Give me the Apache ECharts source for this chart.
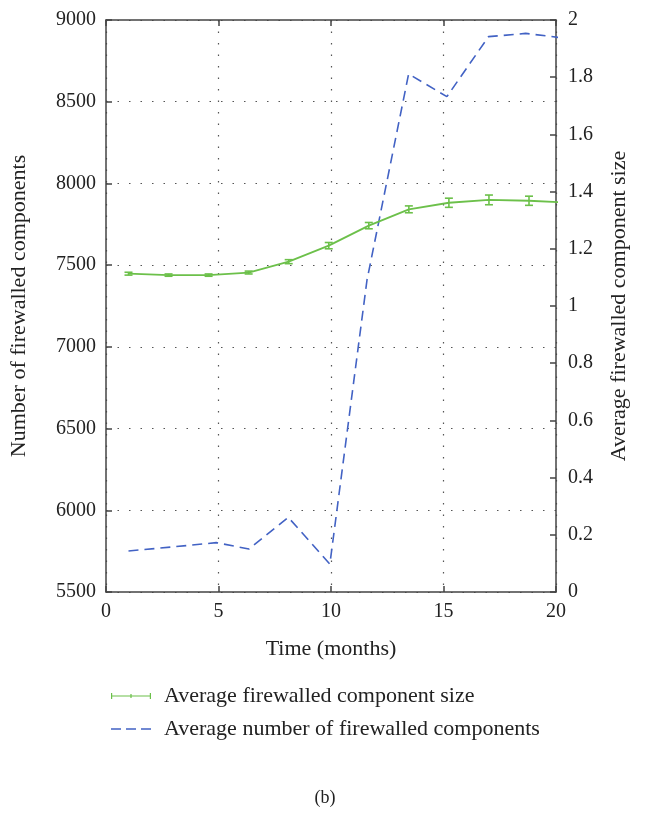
<!DOCTYPE html>
<html>
<head>
<meta charset="utf-8">
<script src="https://cdn.jsdelivr.net/npm/echarts@6/dist/echarts.min.js"></script>
<style>
html, body { margin: 0; padding: 0; background: #fff; }
#main { width: 650px; height: 840px; }
</style>
</head>
<body>
<div id="main"></div>
<script>
// green: average component size (right axis), with error bars
var sizeMonths = [1, 2.78, 4.56, 6.34, 8.12, 9.9, 11.68, 13.46, 15.24, 17.02, 18.8, 20.58];
var sizeValues = [1.113, 1.108, 1.108, 1.117, 1.155, 1.211, 1.281, 1.338, 1.361, 1.371, 1.368, 1.361];
var sizeErrors = [0.005, 0.004, 0.004, 0.005, 0.007, 0.011, 0.011, 0.012, 0.016, 0.017, 0.016, 0.015];
// blue: average number of components (left axis)
var countMonths = [1, 2.9, 4.9, 6.35, 8.1, 9.95, 11.6, 13.45, 15.15, 17, 18.65, 20.5];
var countValues = [5751, 5775, 5802, 5763, 5957, 5671, 7409, 8670, 8531, 8898, 8918, 8887];

var sizeName = 'Average firewalled component size';
var countName = 'Average number of firewalled components';

var green = '#6cc04a';
var blue = '#4262c4';
var axisColor = '#444';
var font = 'Liberation Serif';

var dom = document.getElementById('main');
var myChart = echarts.init(dom, null, { renderer: 'canvas' });

var sizeLine = sizeMonths.map(function (m, i) { return [m, sizeValues[i]]; });
var sizeBars = sizeMonths.map(function (m, i) { return [m, sizeValues[i], sizeErrors[i]]; });
var countLine = countMonths.map(function (m, i) { return [m, countValues[i]]; });

var dotted = { color: '#555', width: 1.2, type: [1.5, 10] };
var frame = { show: true, onZero: false, lineStyle: { color: axisColor, width: 1.5 } };
var tick = { inside: true, length: 6, lineStyle: { color: axisColor, width: 1.5 } };
var plain = function (v) { return String(v); };

var option = {
    animation: false,
    textStyle: { fontFamily: font },
    title: {
        text: '(b)',
        left: 'center',
        top: 784,
        textStyle: { fontFamily: font, fontSize: 18, fontWeight: 'normal', color: '#222' }
    },
    legend: {
        orient: 'vertical',
        left: 106,
        top: 680,
        itemWidth: 40,
        itemHeight: 8,
        itemGap: 11,
        textStyle: { fontFamily: font, fontSize: 22, color: '#222', padding: [0, 0, 0, 8] },
        data: [
            { name: sizeName, icon: 'path://M0,3.4h40v1.2h-40z M0,1h1.2v6h-1.2z M38.8,1h1.2v6h-1.2z M19.4,2h1.2v4h-1.2z' },
            { name: countName, icon: 'path://M0,3.3h10v1.4h-10z M15,3.3h10v1.4h-10z M30,3.3h10v1.4h-10z' }
        ]
    },
    grid: { left: 106, right: 94, top: 20, bottom: 248 },
    xAxis: [
        {
            type: 'value',
            min: 0,
            max: 20,
            interval: 5,
            name: 'Time (months)',
            nameLocation: 'middle',
            nameGap: 46,
            nameTextStyle: { fontFamily: font, fontSize: 22, color: '#222' },
            axisLine: frame,
            axisTick: tick,
            axisLabel: { fontFamily: font, fontSize: 20, color: '#222', margin: 10, formatter: plain },
            splitLine: { show: true, lineStyle: dotted }
        },
        {
            type: 'value',
            position: 'top',
            min: 0,
            max: 20,
            interval: 5,
            axisLine: frame,
            axisTick: tick,
            axisLabel: { show: false },
            splitLine: { show: false }
        }
    ],
    yAxis: [
        {
            type: 'value',
            min: 5500,
            max: 9000,
            interval: 500,
            position: 'left',
            name: 'Number of firewalled components',
            nameLocation: 'middle',
            nameRotate: 90,
            nameGap: 76,
            nameTextStyle: { fontFamily: font, fontSize: 22, color: '#222' },
            axisLine: frame,
            axisTick: tick,
            axisLabel: { fontFamily: font, fontSize: 20, color: '#222', margin: 10, formatter: plain },
            splitLine: { show: true, lineStyle: dotted }
        },
        {
            type: 'value',
            min: 0,
            max: 2,
            interval: 0.2,
            position: 'right',
            name: 'Average firewalled component size',
            nameLocation: 'middle',
            nameRotate: 90,
            nameGap: 52,
            nameTextStyle: { fontFamily: font, fontSize: 22, color: '#222' },
            axisLine: frame,
            axisTick: tick,
            axisLabel: { fontFamily: font, fontSize: 20, color: '#222', margin: 12, formatter: plain },
            splitLine: { show: false }
        }
    ],
    series: [
        {
            name: countName,
            type: 'line',
            yAxisIndex: 0,
            data: countLine,
            showSymbol: false,
            clip: true,
            itemStyle: { color: blue },
            lineStyle: { color: blue, width: 1.6, type: [10, 6] }
        },
        {
            name: sizeName,
            type: 'line',
            yAxisIndex: 1,
            data: sizeLine,
            showSymbol: false,
            clip: true,
            itemStyle: { color: green },
            lineStyle: { color: green, width: 1.8 }
        },
        {
            name: 'size error',
            type: 'custom',
            yAxisIndex: 1,
            data: sizeBars,
            clip: true,
            renderItem: function (params, api) {
                var x = api.value(0);
                var v = api.value(1);
                var e = api.value(2);
                var top = api.coord([x, v + e]);
                var bot = api.coord([x, v - e]);
                var w = 4;
                var style = { stroke: green, lineWidth: 1.6 };
                return {
                    type: 'group',
                    children: [
                        { type: 'line', shape: { x1: top[0], y1: top[1], x2: bot[0], y2: bot[1] }, style: style },
                        { type: 'line', shape: { x1: top[0] - w, y1: top[1], x2: top[0] + w, y2: top[1] }, style: style },
                        { type: 'line', shape: { x1: bot[0] - w, y1: bot[1], x2: bot[0] + w, y2: bot[1] }, style: style }
                    ]
                };
            }
        }
    ]
};

myChart.setOption(option);
window.addEventListener('resize', myChart.resize);
</script>
</body>
</html>
